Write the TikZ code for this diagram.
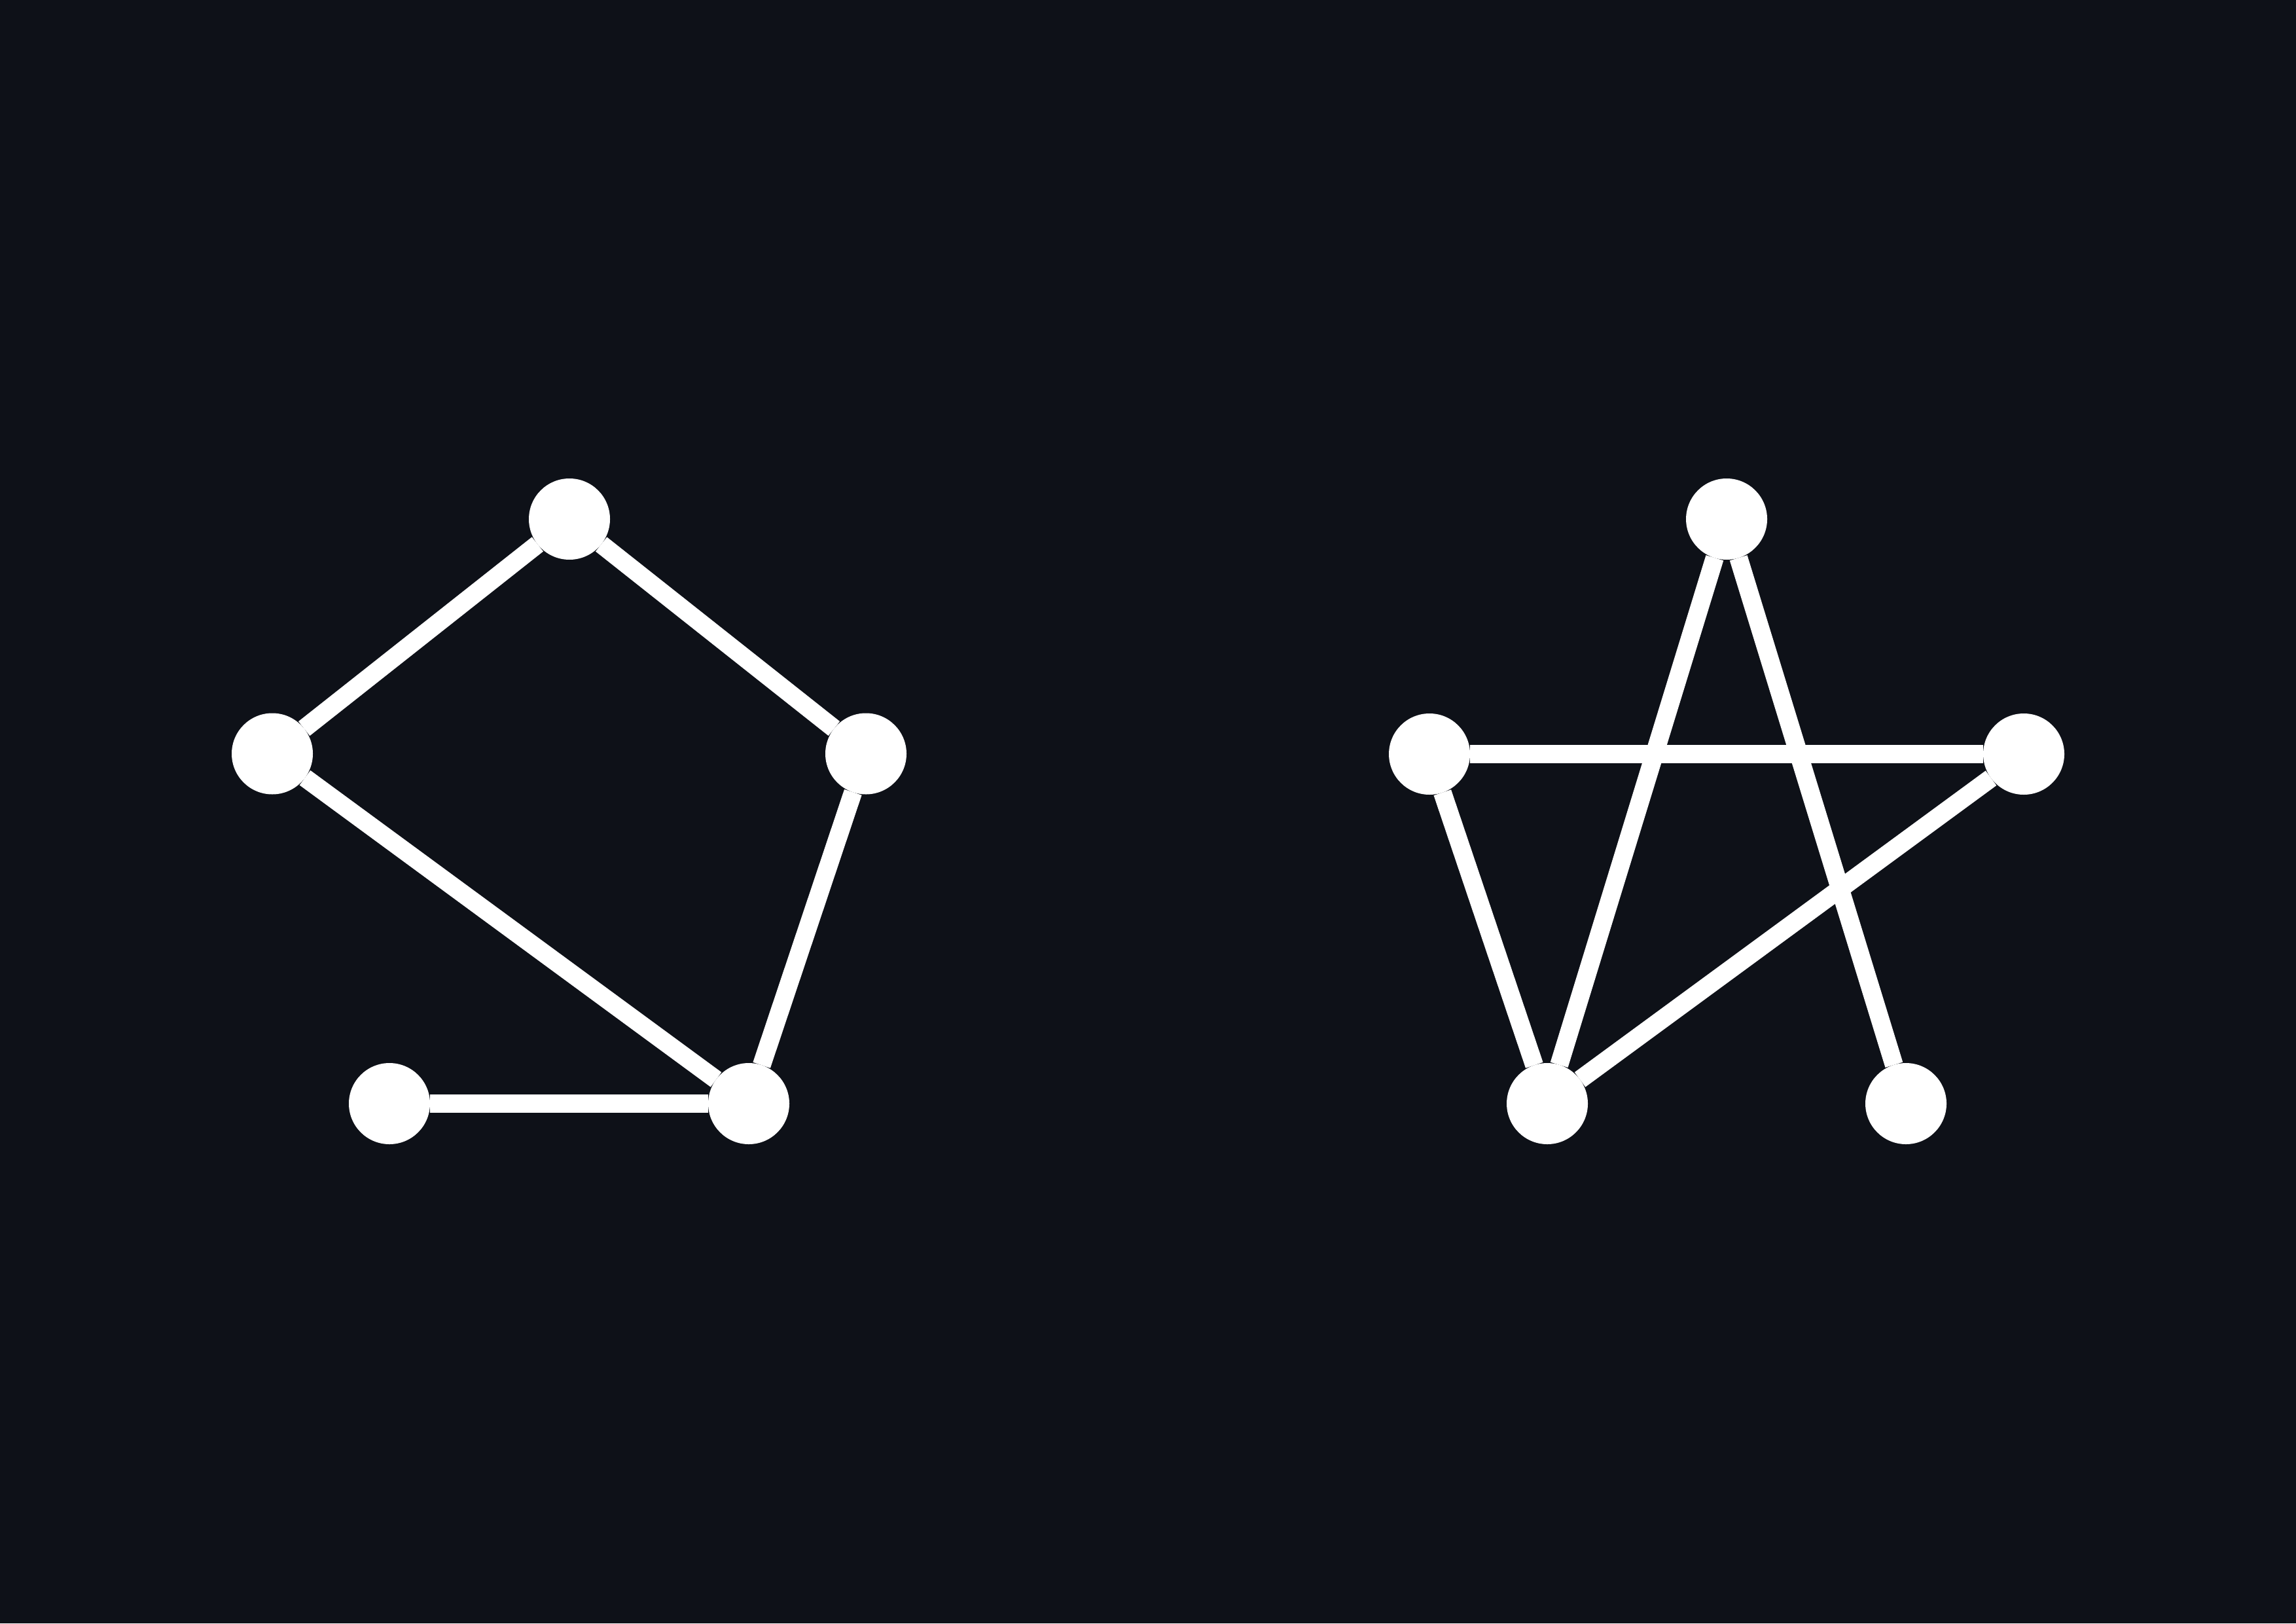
\documentclass[tikz,border=0pt]{standalone}
\usepackage{xcolor}
\usepackage{tikz}

\definecolor{bgdark}{HTML}{0E1118}

\begin{document}
\begin{tikzpicture}[
  vertex/.style = {circle, fill=white, draw=none, minimum size=12.4mm,
                   inner sep=0pt, outer sep=0pt},
  edge/.style   = {draw=white, line width=2.8mm},
]

% ---------- canvas ----------
\fill[bgdark] (0,0) rectangle (35.08,-24.80);
\useasboundingbox (0,0) rectangle (35.08,-24.80);

% ---------- left graph ----------
\node[vertex] (ltop)   at (8.70,-7.93)   {};
\node[vertex] (lleft)  at (4.16,-11.515) {};
\node[vertex] (lright) at (13.23,-11.515) {};
\node[vertex] (lbotl)  at (5.95,-16.86)  {};
\node[vertex] (lbotr)  at (11.44,-16.86) {};

\draw[edge] (ltop) -- (lleft);
\draw[edge] (ltop) -- (lright);
\draw[edge] (lleft) -- (lbotr);
\draw[edge] (lright) -- (lbotr);
\draw[edge] (lbotl) -- (lbotr);

% ---------- right graph ----------
\node[vertex] (rtop)   at (26.38,-7.93)  {};
\node[vertex] (rleft)  at (21.84,-11.52) {};
\node[vertex] (rright) at (30.92,-11.52) {};
\node[vertex] (rbotl)  at (23.64,-16.86) {};
\node[vertex] (rbotr)  at (29.12,-16.86) {};

\draw[edge] (rtop) -- (rbotl);
\draw[edge] (rtop) -- (rbotr);
\draw[edge] (rleft) -- (rright);
\draw[edge] (rleft) -- (rbotl);
\draw[edge] (rright) -- (rbotl);

\end{tikzpicture}
\end{document}
